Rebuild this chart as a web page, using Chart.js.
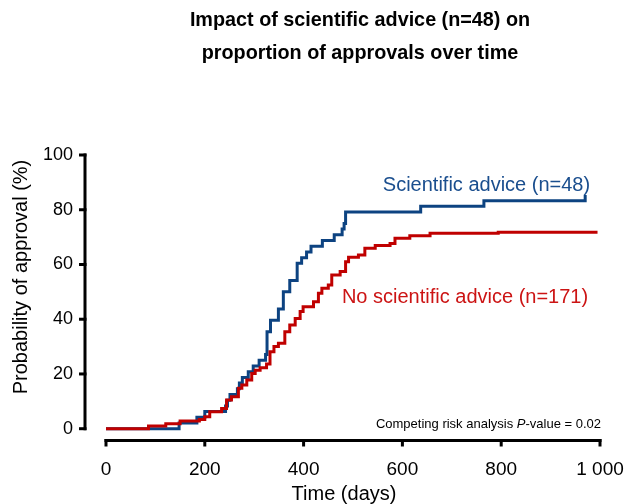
<!DOCTYPE html>
<html>
<head>
<meta charset="utf-8">
<script src="https://cdn.jsdelivr.net/npm/chart.js@4.4.1/dist/chart.umd.min.js"></script>
<style>
  html, body { margin: 0; padding: 0; background: #fff; }
  #wrap { position: relative; width: 627px; height: 504px; }
  #chart { position: absolute; left: 0; top: 0; }
  #title {
    position: absolute; left: 160px; width: 400px; top: 3px;
    text-align: center; color: #000;
    font: bold 19.8px "Liberation Sans", Arial, sans-serif; line-height: 33px;
  }
</style>
</head>
<body>
<div id="wrap">
  <canvas id="chart" width="627" height="504"></canvas>
  <div id="title">Impact of scientific advice (n=48) on<br>proportion of approvals over time</div>
</div>
<script>
const xTicks = [0, 200, 400, 600, 800, 1000];
const xTickLabels = ['0', '200', '400', '600', '800', '1 000'];
const yTicks = [0, 20, 40, 60, 80, 100];

// scientific advice (n=48), days since submission vs cumulative % approved
const adviceDays = [0, 148, 184, 200, 242, 246, 251, 266, 270, 276, 288, 298, 310, 323, 326, 333,
  349, 359, 372, 387, 396, 406, 415, 438, 462, 478, 482, 485, 637, 765, 970];
const advicePct = [0, 2.08, 4.17, 6.25, 8.33, 10.42, 12.5, 14.58, 16.67, 18.75, 20.83, 22.92, 25, 27.08, 35.42, 39.58,
  43.75, 50, 54.17, 60.42, 62.5, 64.58, 66.67, 68.75, 70.83, 72.92, 75, 79.17, 81.25, 83.33, 85.42];

// no scientific advice (n=171)
const noAdviceDays = [0, 86, 121, 150, 189, 200, 210, 234, 244, 254, 268, 275, 285, 295, 302, 312, 325, 332, 340, 349,
  362, 372, 383, 393, 399, 420, 430, 437, 450, 457, 474, 485, 491, 511, 524, 545, 575, 585, 615, 656, 794, 995];
const noAdvicePct = [0, 1.0, 1.8, 2.8, 3.4, 4.4, 6.2, 7.4, 10.5, 11.7, 14.8, 16.0, 17.8, 20.2, 21.4, 22.3, 23.6, 28.1, 30.0, 31.2,
  35.4, 37.9, 40.3, 42.8, 44.6, 46.4, 49.5, 51.3, 52.5, 56.2, 57.4, 61.0, 62.6, 63.5, 65.9, 66.9, 67.7, 69.6, 70.5, 71.4, 71.8, 71.8];

const FONT = '"Liberation Sans", Arial, sans-serif';

function toPoints(xs, ys) {
    return xs.map((x, i) => ({ x: x, y: ys[i] }));
}

const axesPlugin = {
    id: 'axesPlugin',
    afterDraw(chart) {
        const ctx = chart.ctx;
        const xs = chart.scales.x, ys = chart.scales.y;
        const area = chart.chartArea;
        ctx.save();
        ctx.strokeStyle = '#000';
        ctx.lineWidth = 3;
        ctx.lineCap = 'butt';

        // detached y axis
        const ax = area.left;
        ctx.beginPath();
        ctx.moveTo(ax, ys.getPixelForValue(100) - 1.5);
        ctx.lineTo(ax, ys.getPixelForValue(0) + 1.5);
        ctx.stroke();
        yTicks.forEach(v => {
            const p = ys.getPixelForValue(v);
            ctx.beginPath();
            ctx.moveTo(ax + 1.5, p);
            ctx.lineTo(ax - 6, p);
            ctx.stroke();
        });

        // detached x axis
        const ay = area.bottom;
        ctx.beginPath();
        ctx.moveTo(xs.getPixelForValue(0) - 1.5, ay);
        ctx.lineTo(xs.getPixelForValue(1000) + 1.5, ay);
        ctx.stroke();
        xTicks.forEach(v => {
            const p = xs.getPixelForValue(v);
            ctx.beginPath();
            ctx.moveTo(p, ay - 1.5);
            ctx.lineTo(p, ay + 6);
            ctx.stroke();
        });

        // axis titles
        ctx.fillStyle = '#000';
        ctx.font = '20px ' + FONT;
        ctx.textAlign = 'center';
        ctx.textBaseline = 'middle';
        ctx.fillText('Time (days)', 344, 494);
        ctx.save();
        ctx.translate(21, 277);
        ctx.rotate(-Math.PI / 2);
        ctx.fillText('Probability of approval (%)', 0, 0);
        ctx.restore();

        // series labels
        ctx.textAlign = 'right';
        ctx.fillStyle = '#1a4e8e';
        ctx.fillText('Scientific advice (n=48)', xs.getPixelForValue(980), ys.getPixelForValue(89));
        ctx.fillStyle = '#cc1414';
        ctx.fillText('No scientific advice (n=171)', xs.getPixelForValue(976), ys.getPixelForValue(47.9));

        // p-value note, P in italic
        const right = xs.getPixelForValue(1002);
        const y = ys.getPixelForValue(1.5);
        ctx.fillStyle = '#000';
        ctx.textAlign = 'left';
        ctx.font = '13px ' + FONT;
        const a = 'Competing risk analysis ', c = '-value = 0.02';
        const wa = ctx.measureText(a).width, wc = ctx.measureText(c).width;
        ctx.font = 'italic 13px ' + FONT;
        const wb = ctx.measureText('P').width;
        let x = right - wa - wb - wc;
        ctx.font = '13px ' + FONT;
        ctx.fillText(a, x, y);
        ctx.font = 'italic 13px ' + FONT;
        ctx.fillText('P', x + wa, y);
        ctx.font = '13px ' + FONT;
        ctx.fillText(c, x + wa + wb, y);
        ctx.restore();
    }
};

const chart = new Chart(document.getElementById('chart'), {
    type: 'line',
    data: {
        datasets: [
            {
                label: 'No scientific advice (n=171)',
                data: toPoints(noAdviceDays, noAdvicePct),
                borderColor: '#c00000',
                borderWidth: 3,
                stepped: true,
                pointRadius: 0,
                fill: false,
                borderJoinStyle: 'miter'
            },
            {
                label: 'Scientific advice (n=48)',
                data: toPoints(adviceDays, advicePct),
                borderColor: '#0d4381',
                borderWidth: 3,
                stepped: true,
                pointRadius: 0,
                fill: false,
                borderJoinStyle: 'miter'
            }
        ]
    },
    options: {
        responsive: false,
        animation: false,
        layout: { padding: { top: 155, right: 27, left: 0, bottom: 0 } },
        plugins: {
            legend: { display: false },
            tooltip: { enabled: false },
            title: { display: false }
        },
        scales: {
            x: {
                type: 'linear',
                min: -42.5,
                max: 1000,
                grid: { display: false, drawTicks: false },
                border: { display: false },
                afterBuildTicks: s => { s.ticks = xTicks.map(v => ({ value: v })); },
                afterFit: s => { s.height = 63.5; s.paddingLeft = 0; s.paddingRight = 0; },
                ticks: {
                    padding: 18,
                    color: '#000',
                    maxRotation: 0,
                    autoSkip: false,
                    font: { family: FONT, size: 19 },
                    callback: (v, i) => xTickLabels[i]
                }
            },
            y: {
                type: 'linear',
                min: -4.31,
                max: 100,
                grid: { display: false, drawTicks: false },
                border: { display: false },
                afterBuildTicks: s => { s.ticks = yTicks.map(v => ({ value: v })); },
                afterFit: s => { s.width = 85; s.paddingTop = 0; s.paddingBottom = 0; },
                ticks: {
                    padding: 12,
                    color: '#000',
                    autoSkip: false,
                    font: { family: FONT, size: 18 },
                    callback: v => String(v)
                }
            }
        }
    },
    plugins: [axesPlugin]
});
</script>
</body>
</html>
